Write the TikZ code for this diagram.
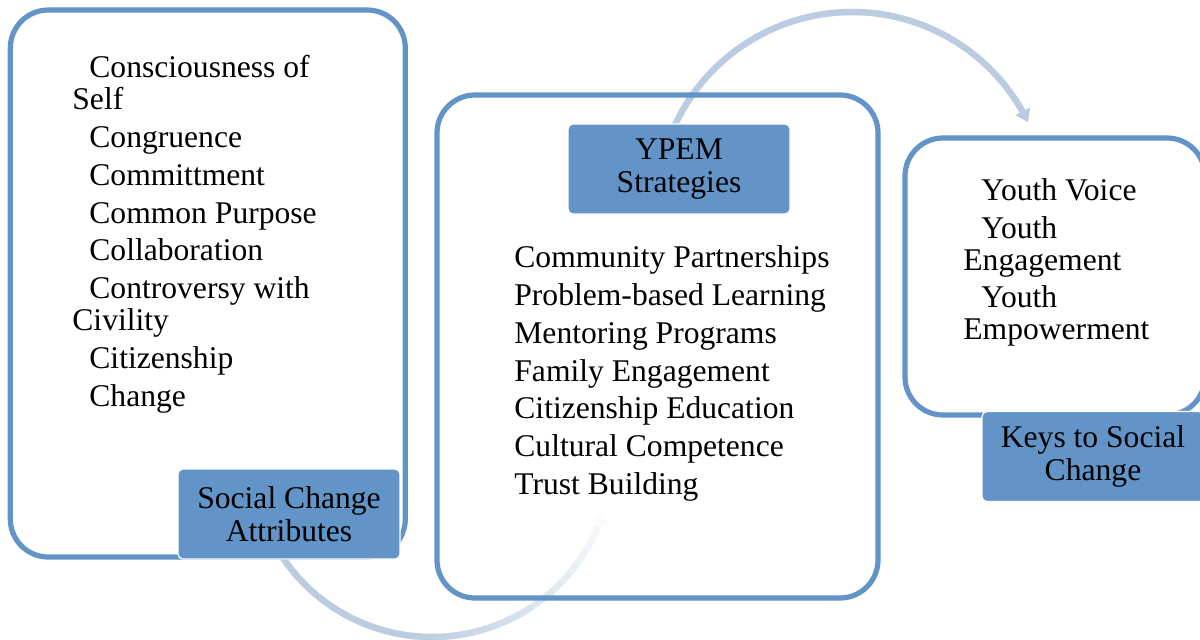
\documentclass[tikz,border=0pt]{standalone}
\usepackage{fontspec}
\setmainfont{Liberation Serif}
\usetikzlibrary{arrows.meta}
\definecolor{boxblue}{RGB}{98,148,200}
\definecolor{arrowc}{RGB}{188,204,224}
\begin{document}
\begin{tikzpicture}[x=0.5pt,y=-0.5pt,
  font=\fontsize{15.8}{16}\selectfont,
  bigbox/.style={draw=boxblue, line width=2.6pt, rounded corners=19pt, inner sep=0pt},
  tagbox/.style={fill=boxblue, draw=white, line width=0.6pt, rounded corners=2.5pt,
    minimum width=111pt, minimum height=45pt, align=center, inner sep=0pt,
    font=\fontsize{15.8}{16.5}\selectfont},
  listtext/.style={align=left, inner sep=0pt, anchor=north west},
  flow/.style={line width=3.25pt, draw=arrowc, line cap=butt},
  flowtip/.style={-{Triangle[length=6pt,width=8pt]}},
]
\useasboundingbox (0,0) rectangle (1200,639);
\clip (0,0) rectangle (1200,639);

% ---- curved flow arrows (behind the boxes) ----
% upper arrow: from the strategies tag over to the keys box
\coordinate (topstart) at ({852.2+195.5*cos(205)},{207.5+195.5*sin(205)});
\coordinate (topend)   at ({852.2+195.5*cos(334.1)},{207.5+195.5*sin(334.1)});
\draw[flow, flowtip] plot[domain=205:334.1, samples=90]
  ({852.2+195.5*cos(\x)},{207.5+195.5*sin(\x)});

% lower arrow: from the attributes tag round into the strategies box,
% fading out towards its head
\coordinate (lowstart) at ({432+180*cos(148)},{457+180*sin(148)});
\coordinate (lowend)   at ({432+180*cos(17.8)},{457+180*sin(17.8)});
\draw[flow, draw=arrowc!8!white, flowtip] plot[domain=148:17.8, samples=90]
  ({432+180*cos(\x)},{457+180*sin(\x)});
\foreach \i in {0,...,29}{
  \pgfmathsetmacro\aa{148-\i*125/30}
  \pgfmathsetmacro\ab{148-(\i+1)*125/30-0.4}
  \pgfmathsetmacro\am{(\aa+\ab)/2}
  \pgfmathsetmacro\pc{\am>95 ? 100 : 8+92*(\am-17.8)/77.2}
  \draw[flow, draw=arrowc!\pc!white] plot[domain=\aa:\ab, samples=5]
    ({432+180*cos(\x)},{457+180*sin(\x)});
}

% ---- outlined panels ----
\node[bigbox, minimum width=197.5pt, minimum height=273.5pt] (attr)  at (207.8,283.5) {};
\node[bigbox, minimum width=220.5pt, minimum height=251.5pt] (strat) at (657.5,346.5) {};
\node[bigbox, minimum width=150pt,   minimum height=138.5pt] (keys)  at (1055,276.5) {};

% ---- panel contents ----
\node[listtext] (attrlist) at (72,55) {%
  \hspace*{8.5pt}Consciousness of\\Self\\[2.9pt]
  \hspace*{8.5pt}Congruence\\[2.9pt]
  \hspace*{8.5pt}Committment\\[2.9pt]
  \hspace*{8.5pt}Common Purpose\\[2.9pt]
  \hspace*{8.5pt}Collaboration\\[2.9pt]
  \hspace*{8.5pt}Controversy with\\Civility\\[2.9pt]
  \hspace*{8.5pt}Citizenship\\[2.9pt]
  \hspace*{8.5pt}Change};

\node[listtext, font=\fontsize{15.8}{18.85}\selectfont] (stratlist) at (514,245.6) {%
  Community Partnerships\\
  Problem-based Learning\\
  Mentoring Programs\\
  Family Engagement\\
  Citizenship Education\\
  Cultural Competence\\
  Trust Building};

\node[listtext] (keyslist) at (963,178) {%
  \hspace*{9pt}Youth Voice\\[2.9pt]
  \hspace*{9pt}Youth\\Engagement\\[2.9pt]
  \hspace*{9pt}Youth\\Empowerment};

% ---- filled title tags ----
\node[tagbox] (attrtag)  at (289,514)  {Social Change\\Attributes};
\node[tagbox] (strattag) at (679,169)  {YPEM\\Strategies};
\node[tagbox] (keystag)  at (1093,456.5) {Keys to Social\\Change};
\end{tikzpicture}
\end{document}
